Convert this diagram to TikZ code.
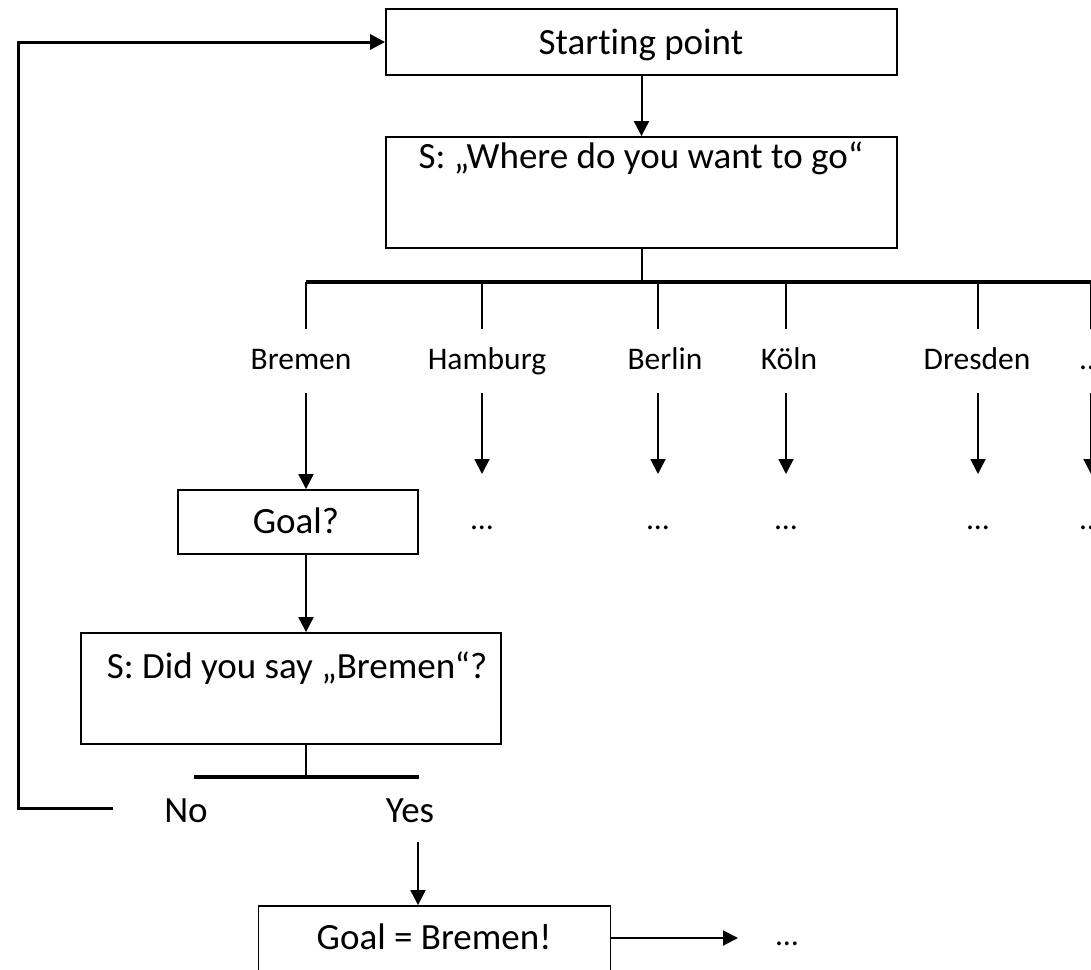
\documentclass[tikz,border=0pt]{standalone}
\usepackage{fontspec}
\setmainfont{Carlito}[Ligatures=NoCommon]
\usetikzlibrary{arrows.meta}
\begin{document}
\begin{tikzpicture}[x=1pt,y=-1pt,
  box/.style={draw, line width=1.8pt, inner sep=0pt},
  txt/.style={inner sep=0pt, anchor=base, font=\fontsize{37}{44}\selectfont},
  city/.style={inner sep=0pt, anchor=base, font=\fontsize{31.5}{38}\selectfont},
  link/.style={line width=2.4pt},
  bus/.style={line width=3.4pt},
  tip/.style={-{Triangle[length=15pt,width=15pt]}},
  arr/.style={line width=2pt, tip}
]
\useasboundingbox (0,0) rectangle (1091,969);
\clip (0,0) rectangle (1091,969);

% boxes
\node[box, minimum width=511pt, minimum height=66pt] (start) at (641.5,42) {};
\node[box, minimum width=511pt, minimum height=111pt] (ask) at (641.5,192.5) {};
\node[box, minimum width=240pt, minimum height=64pt] (goal) at (298,522) {};
\node[box, minimum width=420pt, minimum height=111pt] (confirm) at (291,688.5) {};
\node[box, minimum width=352pt, minimum height=80pt] (done) at (434.5,946) {};

% box texts
\node[txt] (tstart) at (641,54) {Starting point};
\node[txt] (task) at (641,168) {S: „Where do you want to go“};
\node[txt] (tgoal) at (296,533) {Goal?};
\node[txt] (tconfirm) at (297,678) {S: Did you say „Bremen“?};
\node[txt] (tdone) at (434,949) {Goal = Bremen!};

% first step
\draw[arr] (start) -- (ask);

% branching bus
\coordinate (stem) at (642,282);
\coordinate (busL) at (306,282);
\coordinate (busR) at (1095,282);
\draw[link] (ask.south -| stem) -- (stem);
\draw[bus] (busL) -- (busR);

% city columns
\foreach \name/\lx/\cx/\lab in {bre/301/306/Bremen, ham/487/482/Hamburg, ber/665/658/Berlin, koe/789/786/Köln, dre/977/978/Dresden, more/1091/1091/\ldots}{
  \coordinate (\name top) at (\cx,282);
  \coordinate (\name low) at (\cx,329);
  \draw[link] (\name top) -- (\name low);
  \node[city] (\name) at (\lx,369) {\lab};
  \coordinate (\name a) at (\cx,393);
  \coordinate (\name b) at (\cx,474);
}
\draw[arr] (brea) -- (goal.north -| brea);
\foreach \name in {ham,ber,koe,dre,more}{
  \draw[arr] (\name a) -- (\name b);
}
\foreach \name/\x in {ham/482,ber/658,koe/786,dre/978,more/1091}{
  \node[city] (\name dots) at (\x,529) {\ldots};
}

% confirmation step
\coordinate (gstem) at (306,554);
\draw[arr] (goal.south -| gstem) -- (confirm.north -| gstem);
\coordinate (cstem) at (306,777);
\coordinate (cL) at (194,777);
\coordinate (cR) at (419,777);
\draw[link] (confirm.south -| cstem) -- (cstem);
\draw[bus] (cL) -- (cR);
\node[txt] (no) at (186,822) {No};
\node[txt] (yes) at (410,822) {Yes};

% back to the start
\coordinate (loopA) at (113,808);
\coordinate (loopB) at (18,808);
\draw[line width=3pt, tip] (loopA) -- (loopB) |- (start.west);

% accepted
\coordinate (ya) at (418,842);
\draw[arr] (ya) -- (done.north -| ya);
\node[city] (next) at (787,945) {\ldots};
\coordinate (nexttip) at (738,938);
\draw[arr] (done.east |- nexttip) -- (nexttip);
\end{tikzpicture}
\end{document}
